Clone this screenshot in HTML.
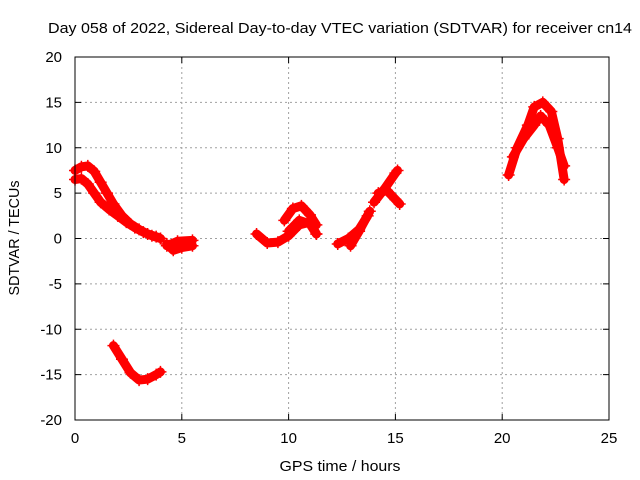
<!DOCTYPE html>
<html><head><meta charset="utf-8"><style>
body{margin:0;background:#fff;}
svg{display:block;font-family:"Liberation Sans",sans-serif;}
</style></head><body>
<svg id="chart" width="640" height="480">
<text x="340" y="33" text-anchor="middle" font-size="15" textLength="584" lengthAdjust="spacingAndGlyphs">Day 058 of 2022, Sidereal Day-to-day VTEC variation (SDTVAR) for receiver cn14</text>
<g id="grid"></g>
<g id="ticks"></g>
<g id="marks"></g>
<rect x="75" y="57" width="534" height="363" fill="none" stroke="#000" stroke-width="1"/>
<text x="340" y="471" text-anchor="middle" font-size="15" textLength="121" lengthAdjust="spacingAndGlyphs">GPS time / hours</text>
<text transform="translate(19,238) rotate(-90)" text-anchor="middle" font-size="15" textLength="115" lengthAdjust="spacingAndGlyphs">SDTVAR / TECUs</text>
</svg>
<script>
const xTicks=[0,5,10,15,20,25];
const yTicks=[-20,-15,-10,-5,0,5,10,15,20];
const trackA1H=[0,0.3,0.6,0.9,1.2,1.5,1.8,2.2,2.6,3.0,3.4,3.8,4.0];
const trackA1V=[7.5,7.9,8.0,7.4,6.2,5.0,3.8,2.5,1.6,1.0,0.5,0.2,0];
const trackA2H=[0,0.3,0.6,0.9,1.2,1.6,2.0,2.4,2.8,3.2,3.6,4.0];
const trackA2V=[6.5,6.6,6.0,5.0,4.0,3.2,2.5,1.8,1.2,0.7,0.3,0];
const trackBH=[4.3,4.6,5.0,5.5];
const trackBV=[-0.6,-1.3,-1.0,-0.8];
const trackB2H=[4.3,4.8,5.5];
const trackB2V=[-0.8,-0.3,-0.2];
const trackCH=[1.8,2.2,2.6,3.0,3.4,3.8,4.0];
const trackCV=[-11.8,-13.3,-14.8,-15.6,-15.5,-15.0,-14.7];
const trackDH=[8.5,9.0,9.5,10.0,10.5,11.0,11.3];
const trackDV=[0.5,-0.5,-0.4,0.3,1.5,1.8,0.5];
const trackD2H=[9.8,10.2,10.6,11.0,11.3];
const trackD2V=[2.0,3.3,3.6,2.6,1.5];
const trackD3H=[10.0,10.5,11.0,11.3];
const trackD3V=[0.8,2.0,1.6,0.5];
const trackEH=[12.3,12.8,13.3,13.7];
const trackEV=[-0.6,0,1.0,2.5];
const trackE2H=[12.9,13.3,13.8];
const trackE2V=[-0.8,0.8,3.0];
const trackFH=[14.0,14.5,15.0,15.1];
const trackFV=[4.0,5.5,7.2,7.5];
const trackF2H=[14.2,14.6,15.0,15.2];
const trackF2V=[5.0,5.3,4.3,3.8];
const trackGH=[20.3,20.7,21.2,21.5,21.9,22.3,22.6,22.9];
const trackGV=[7.0,10.0,12.5,14.5,15.0,14.0,11.0,6.5];
const trackG2H=[20.5,21.0,21.5,21.8,22.2,22.6,22.9];
const trackG2V=[9.0,11.0,12.5,13.5,12.5,10.0,8.0];
const tracks=[[trackA1H,trackA1V],[trackA2H,trackA2V],[trackBH,trackBV],[trackB2H,trackB2V],[trackCH,trackCV],[trackDH,trackDV],[trackD2H,trackD2V],[trackD3H,trackD3V],[trackEH,trackEV],[trackE2H,trackE2V],[trackFH,trackFV],[trackF2H,trackF2V],[trackGH,trackGV],[trackG2H,trackG2V]];
const X0=75,X1=609,Y0=420,Y1=57;
function xs(h){return X0+(h-0)/25*(X1-X0);}
function ys(v){return Y0-(v+20)/40*(Y0-Y1);}
const NS='http://www.w3.org/2000/svg';
const grid=document.getElementById('grid'),ticks=document.getElementById('ticks'),marks=document.getElementById('marks');
function mk(t,a,p){const e=document.createElementNS(NS,t);for(const k in a)e.setAttribute(k,a[k]);p.appendChild(e);return e;}
xTicks.forEach(t=>{const x=xs(t);
 if(t>0&&t<25){const g=mk('line',{x1:x,x2:x,y1:Y1,y2:Y0,stroke:'#a0a0a0','stroke-dasharray':'2,3'},grid);
 
 }
 mk('line',{x1:x,x2:x,y1:Y0,y2:Y0-6,stroke:'#000'},ticks);mk('line',{x1:x,x2:x,y1:Y1,y2:Y1+6,stroke:'#000'},ticks);
 const l=mk('text',{x:x,y:443,'text-anchor':'middle','font-size':'15'},ticks);l.textContent=t;
 
 });
yTicks.forEach(t=>{const y=ys(t);
 if(t>-20&&t<20){const g=mk('line',{x1:X0,x2:X1,y1:y,y2:y,stroke:'#a0a0a0','stroke-dasharray':'2,3'},grid);
 
 }
 mk('line',{x1:X0,x2:X0+6,y1:y,y2:y,stroke:'#000'},ticks);mk('line',{x1:X1,x2:X1-6,y1:y,y2:y,stroke:'#000'},ticks);
 const l=mk('text',{x:62,y:y+5,'text-anchor':'end','font-size':'15'},ticks);l.textContent=t;
 
 });
tracks.forEach(([H,V])=>{
 const pts=H.map((h,i)=>xs(h)+','+ys(V[i])).join(' ');
 const pl=mk('polyline',{points:pts,fill:'none',stroke:'#f00','stroke-width':9,'stroke-linejoin':'round','stroke-linecap':'round'},marks);
 
 
 H.forEach((h,i)=>{const x=xs(h),y=ys(V[i]);
  const p=mk('path',{d:`M${x-6},${y}H${x+6}M${x},${y-6}V${y+6}`,stroke:'#f00','stroke-width':1.5},marks);
  
  });
});
</script>
</body></html>
